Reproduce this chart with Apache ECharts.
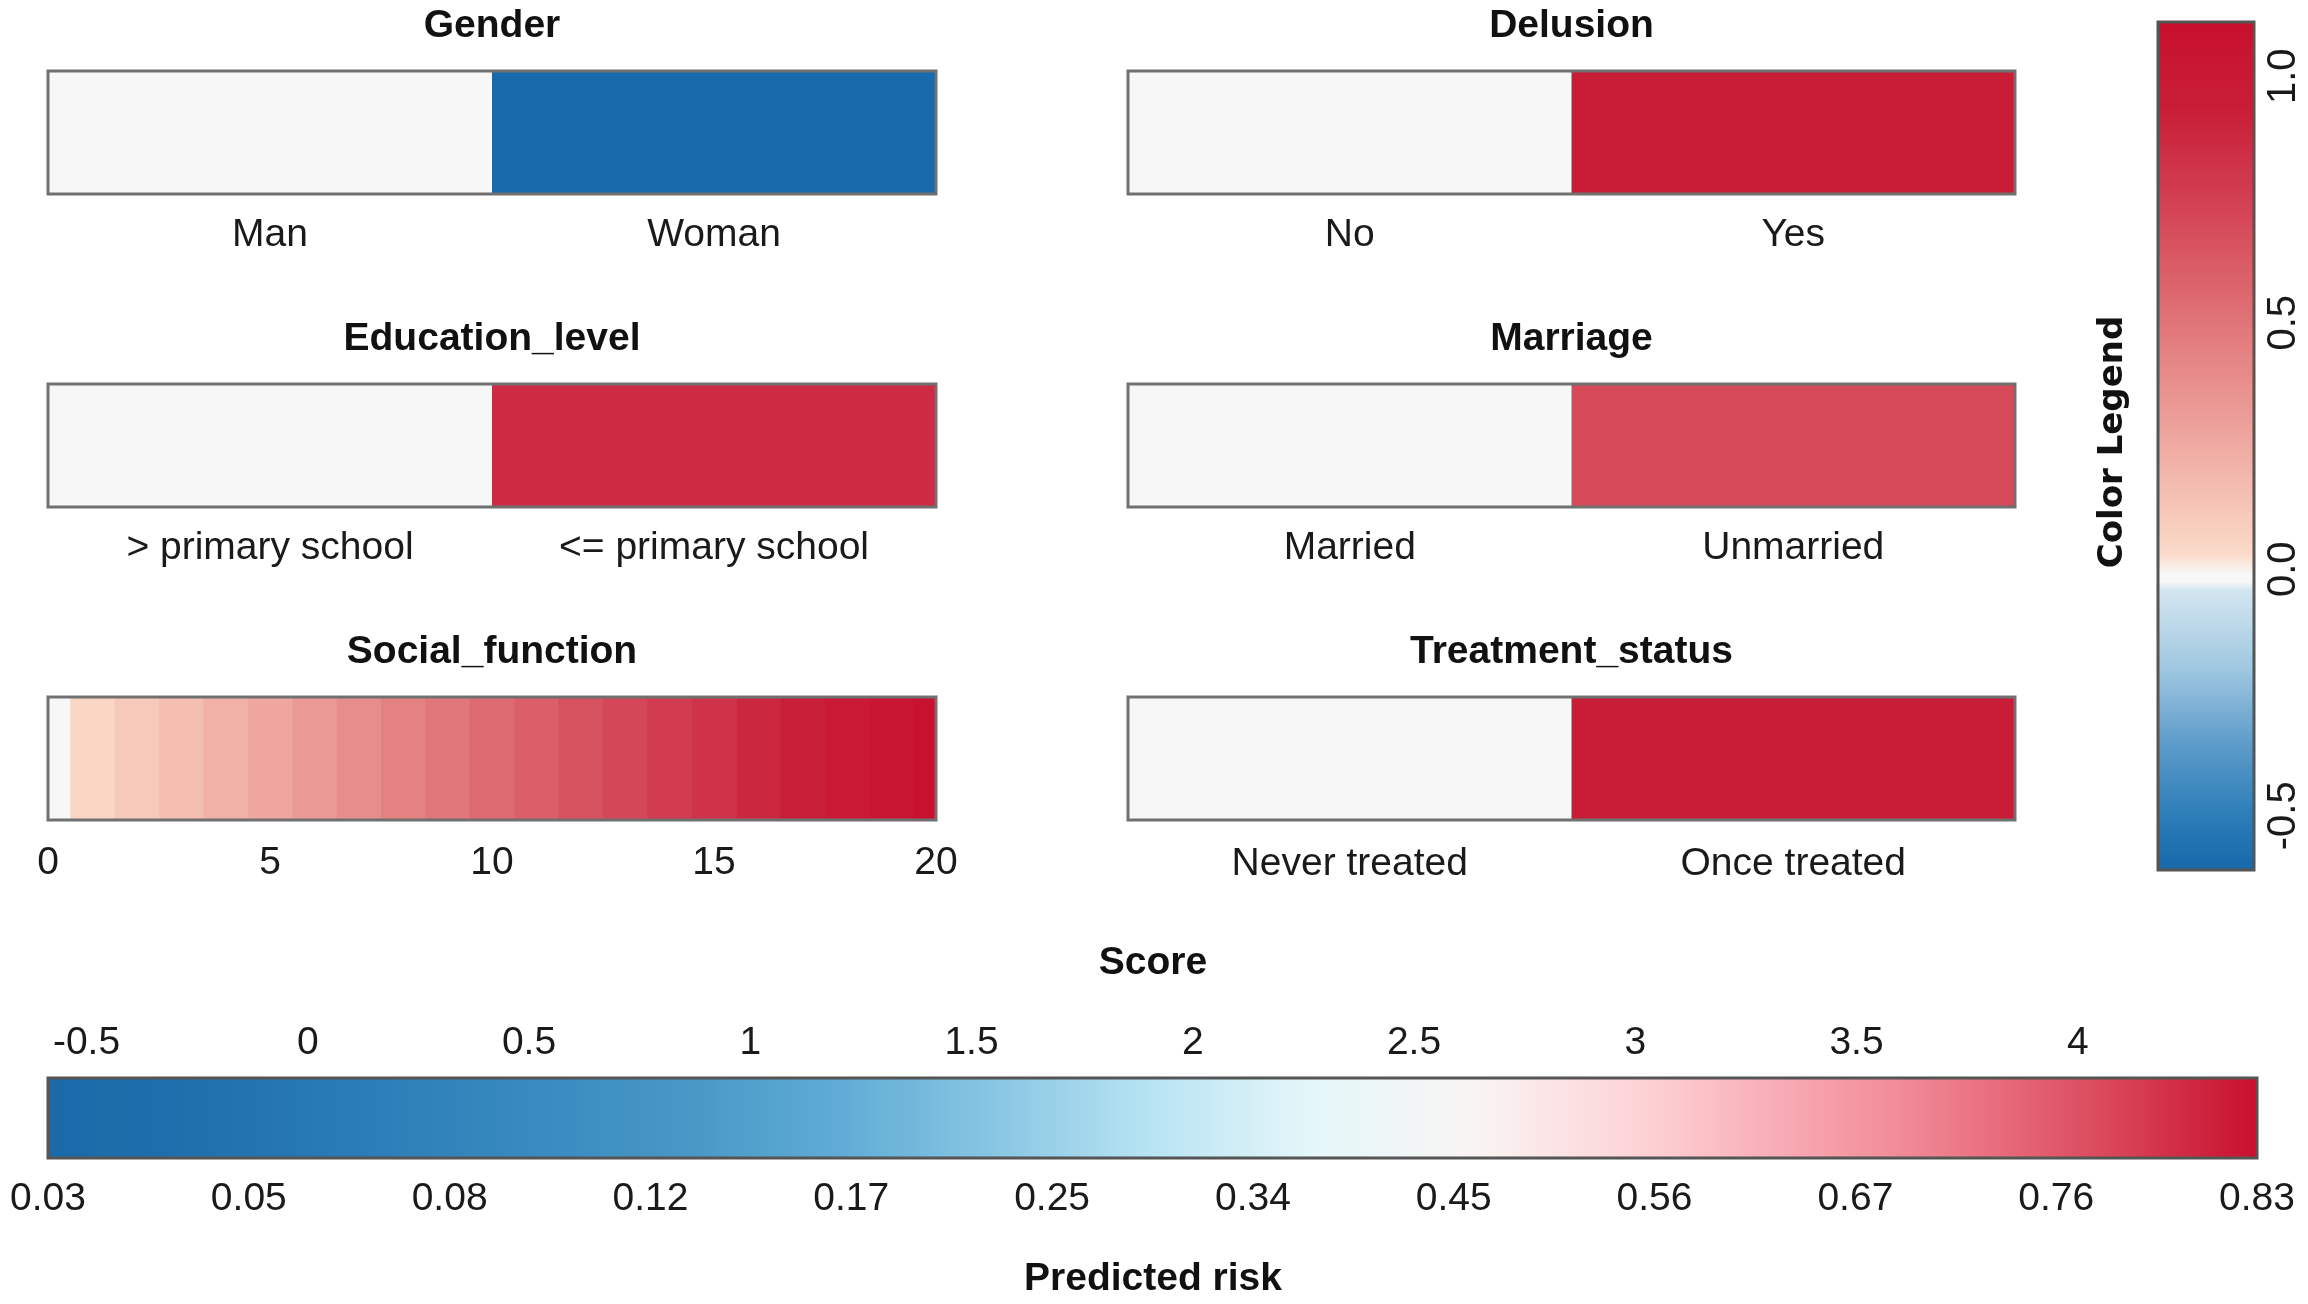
<!DOCTYPE html>
<html><head><meta charset="utf-8">
<script src="https://cdn.jsdelivr.net/npm/echarts@6/dist/echarts.min.js"></script>
<style>html,body{margin:0;padding:0;background:#fff}#c{width:2308px;height:1304px}</style>
</head><body><div id="c"></div>
<script>
// ---------------- data ----------------
const genderCats = ['Man', 'Woman'];
const genderEffect = [0, -0.6];
const delusionCats = ['No', 'Yes'];
const delusionEffect = [0, 0.95];
const educationCats = ['> primary school', '<= primary school'];
const educationEffect = [0, 0.86];
const marriageCats = ['Married', 'Unmarried'];
const marriageEffect = [0, 0.70];
const treatmentCats = ['Never treated', 'Once treated'];
const treatmentEffect = [0, 0.96];
const socialScores = [0, 1, 2, 3, 4, 5, 6, 7, 8, 9, 10, 11, 12, 13, 14, 15, 16, 17, 18, 19, 20];
const socialEffect = [0, 0.05, 0.11, 0.16, 0.22, 0.27, 0.33, 0.38, 0.44, 0.49, 0.55, 0.60, 0.66, 0.71, 0.77, 0.82, 0.88, 0.93, 0.99, 1.04, 1.10];
const socialRange = [0, 20];
const socialTickStep = 5;
const legendRange = [-0.61, 1.11];
const legendTicks = [-0.5, 0, 0.5, 1.0];
const scoreRange = [-0.587, 4.405];
const scoreTicks = [-0.5, 0, 0.5, 1, 1.5, 2, 2.5, 3, 3.5, 4];
const riskLabels = ['0.03', '0.05', '0.08', '0.12', '0.17', '0.25', '0.34', '0.45', '0.56', '0.67', '0.76', '0.83'];

// ---------------- style ----------------
const FONT = '"Liberation Sans", Arial, sans-serif';
const TXT = '#1a1a1a';
const effectStops = [[-0.61,'#1768a9'],[-0.5,'#2c7db8'],[-0.35,'#5f9dca'],[-0.2,'#a0c8e1'],[-0.035,'#d5e7f1'],
  [-0.028,'#f7f7f7'],[0.006,'#f7f7f7'],[0.012,'#fbe0d3'],[0.05,'#fad6c4'],[0.27,'#eea69f'],[0.55,'#dd6a70'],
  [0.71,'#d44758'],[0.82,'#ce3349'],[0.93,'#c91e38'],[1.11,'#c8102e']];
const scorePalette = ['#1a6aa9','#2070ae','#2a7db7','#3789bf','#4697c6','#5fabd5','#88c6e3','#b8e4f3',
  '#e4f6f9','#f9f5f4','#fdd6d9','#f8abb4','#ee7f8d','#db4a5d','#c8102e'];

function hex2rgb(h){return [parseInt(h.slice(1,3),16),parseInt(h.slice(3,5),16),parseInt(h.slice(5,7),16)];}
function rgb2hex(c){return '#'+c.map(v=>Math.round(v).toString(16).padStart(2,'0')).join('');}
function stopColor(v){
  if (v <= effectStops[0][0]) return effectStops[0][1];
  for (let i = 1; i < effectStops.length; i++) {
    if (v <= effectStops[i][0]) {
      const a = effectStops[i-1], b = effectStops[i];
      const t = (v - a[0]) / (b[0] - a[0]);
      const ca = hex2rgb(a[1]), cb = hex2rgb(b[1]);
      return rgb2hex(ca.map((x, k) => x + (cb[k] - x) * t));
    }
  }
  return effectStops[effectStops.length-1][1];
}
const effectPalette = [];
const NS = 344;
for (let i = 0; i <= NS; i++) effectPalette.push(stopColor(legendRange[0] + (legendRange[1]-legendRange[0]) * i / NS));

// ---------------- layout ----------------
const colLeft = [48, 1128];
const colWidth = [888, 887];
const rowTop = [71, 384, 697];
const rowLabelMargin = [22, 22, 25];
const boxH = 123;

const panels = [
  {title:'Gender', cats:genderCats, eff:genderEffect, col:0, row:0},
  {title:'Delusion', cats:delusionCats, eff:delusionEffect, col:1, row:0},
  {title:'Education_level', cats:educationCats, eff:educationEffect, col:0, row:1},
  {title:'Marriage', cats:marriageCats, eff:marriageEffect, col:1, row:1},
  {title:'Treatment_status', cats:treatmentCats, eff:treatmentEffect, col:1, row:2},
];

const grid = [], xAxis = [], yAxis = [], series = [], graphic = [];
const labelStyle = {fontSize:39, color:TXT, fontFamily:FONT};
const titleStyle = (t) => ({text:t, font:'bold 39px ' + FONT, fill:'#111', textAlign:'center',
  textVerticalAlign:'middle', align:'center', verticalAlign:'middle'});

panels.forEach((p, i) => {
  grid.push({left:colLeft[p.col], top:rowTop[p.row], width:colWidth[p.col], height:boxH,
    show:true, borderColor:'#707070', borderWidth:3, backgroundColor:'transparent', z:3});
  xAxis.push({gridIndex:i, type:'category', data:p.cats, axisLine:{show:false}, axisTick:{show:false},
    splitLine:{show:false}, axisLabel:Object.assign({margin:rowLabelMargin[p.row], interval:0}, labelStyle)});
  yAxis.push({gridIndex:i, type:'value', min:0, max:1, show:false});
  series.push({type:'bar', xAxisIndex:i, yAxisIndex:i, silent:true, barCategoryGap:'0%', barGap:'0%',
    data:p.cats.map((c, j) => [c, 1, p.eff[j]]), encode:{x:0, y:1}, itemStyle:{borderWidth:0}});
  graphic.push({type:'text', x:colLeft[p.col] + colWidth[p.col]/2, y:rowTop[p.row] - 45, style:titleStyle(p.title)});
});

// Social_function panel (index 5)
grid.push({left:colLeft[0], top:rowTop[2], width:colWidth[0], height:boxH,
  show:true, borderColor:'#707070', borderWidth:3, backgroundColor:'transparent', z:3});
xAxis.push({gridIndex:5, type:'value', min:socialRange[0], max:socialRange[1], interval:socialTickStep,
  axisLine:{show:false}, axisTick:{show:false}, splitLine:{show:false},
  axisLabel:Object.assign({margin:24, showMinLabel:true, showMaxLabel:true}, labelStyle)});
yAxis.push({gridIndex:5, type:'value', min:0, max:1, show:false});
series.push({type:'custom', xAxisIndex:5, yAxisIndex:5, silent:true,
  data:socialScores.map((s, j) => [s, 1, socialEffect[j]]), encode:{x:0, y:1},
  renderItem:function(params, api){
    const x = api.value(0);
    const x0 = Math.max(socialRange[0], x - 0.5), x1 = Math.min(socialRange[1], x + 0.5);
    const p0 = api.coord([x0, 1]), p1 = api.coord([x1, 0]);
    return {type:'rect', shape:{x:p0[0], y:p0[1], width:p1[0]-p0[0] + 0.6, height:p1[1]-p0[1]},
      style:{fill:api.visual('color')}};
  }});
graphic.push({type:'text', x:colLeft[0] + colWidth[0]/2, y:rowTop[2] - 45, style:titleStyle('Social_function')});

// Color legend axis (grid 6)
grid.push({left:2158, top:22, width:96, height:848, show:true, borderColor:'#555', borderWidth:3,
  backgroundColor:'transparent', z:6});
xAxis.push({gridIndex:6, type:'value', min:0, max:1, show:false});
yAxis.push({gridIndex:6, type:'value', min:legendRange[0], max:legendRange[1], position:'right',
  axisLine:{show:false}, axisTick:{show:false}, splitLine:{show:false},
  axisLabel:{customValues:legendTicks, rotate:90, margin:10, fontSize:40, color:TXT, fontFamily:FONT,
    formatter:v => (Math.abs(v) < 1e-9 ? 0 : v).toFixed(1)}});
graphic.push({type:'text', x:2113, y:442, rotation:Math.PI/2,
  style:{text:'Color Legend', font:'bold 34px "DejaVu Sans", sans-serif', fill:'#111', textAlign:'center',
    textVerticalAlign:'middle', align:'center', verticalAlign:'middle'}});

// Score bar axes (grid 7)
grid.push({left:48, top:1078, width:2209, height:80, show:true, borderColor:'#555', borderWidth:3,
  backgroundColor:'transparent', z:6});
xAxis.push({gridIndex:7, type:'value', min:scoreRange[0], max:scoreRange[1], position:'top',
  axisLine:{show:false}, axisTick:{show:false}, splitLine:{show:false},
  axisLabel:Object.assign({customValues:scoreTicks, margin:15, formatter:v => String(v)}, labelStyle)});
xAxis.push({gridIndex:7, type:'category', data:riskLabels, boundaryGap:false, position:'bottom',
  axisLine:{show:false}, axisTick:{show:false}, splitLine:{show:false},
  axisLabel:Object.assign({interval:0, margin:22, hideOverlap:false}, labelStyle)});
yAxis.push({gridIndex:7, type:'value', min:0, max:1, show:false});
series.push({type:'scatter', xAxisIndex:7, yAxisIndex:7, data:[], silent:true});
const scoreSeriesIndex = series.length - 1;

graphic.push({type:'text', x:1153, y:963, style:titleStyle('Score')});
graphic.push({type:'text', x:1153, y:1279, style:titleStyle('Predicted risk')});

const option = {
  backgroundColor:'#fff',
  animation:false,
  grid, xAxis, yAxis, series, graphic,
  visualMap:[
    {type:'continuous', seriesIndex:[0,1,2,3,4,5], dimension:2, min:legendRange[0], max:legendRange[1],
      inRange:{color:effectPalette}, orient:'vertical', left:2158, top:22, itemWidth:96, itemHeight:848,
      padding:0, calculable:false, hoverLink:false, showLabel:false},
    {type:'continuous', seriesIndex:[scoreSeriesIndex], dimension:0, min:scoreRange[0], max:scoreRange[1],
      inRange:{color:scorePalette}, orient:'horizontal', left:48, top:1078, itemWidth:80, itemHeight:2209,
      padding:0, calculable:false, hoverLink:false, showLabel:false}
  ]
};
const chart = echarts.init(document.getElementById('c'), null, {renderer:'canvas'});
chart.setOption(option);
</script></body></html>
